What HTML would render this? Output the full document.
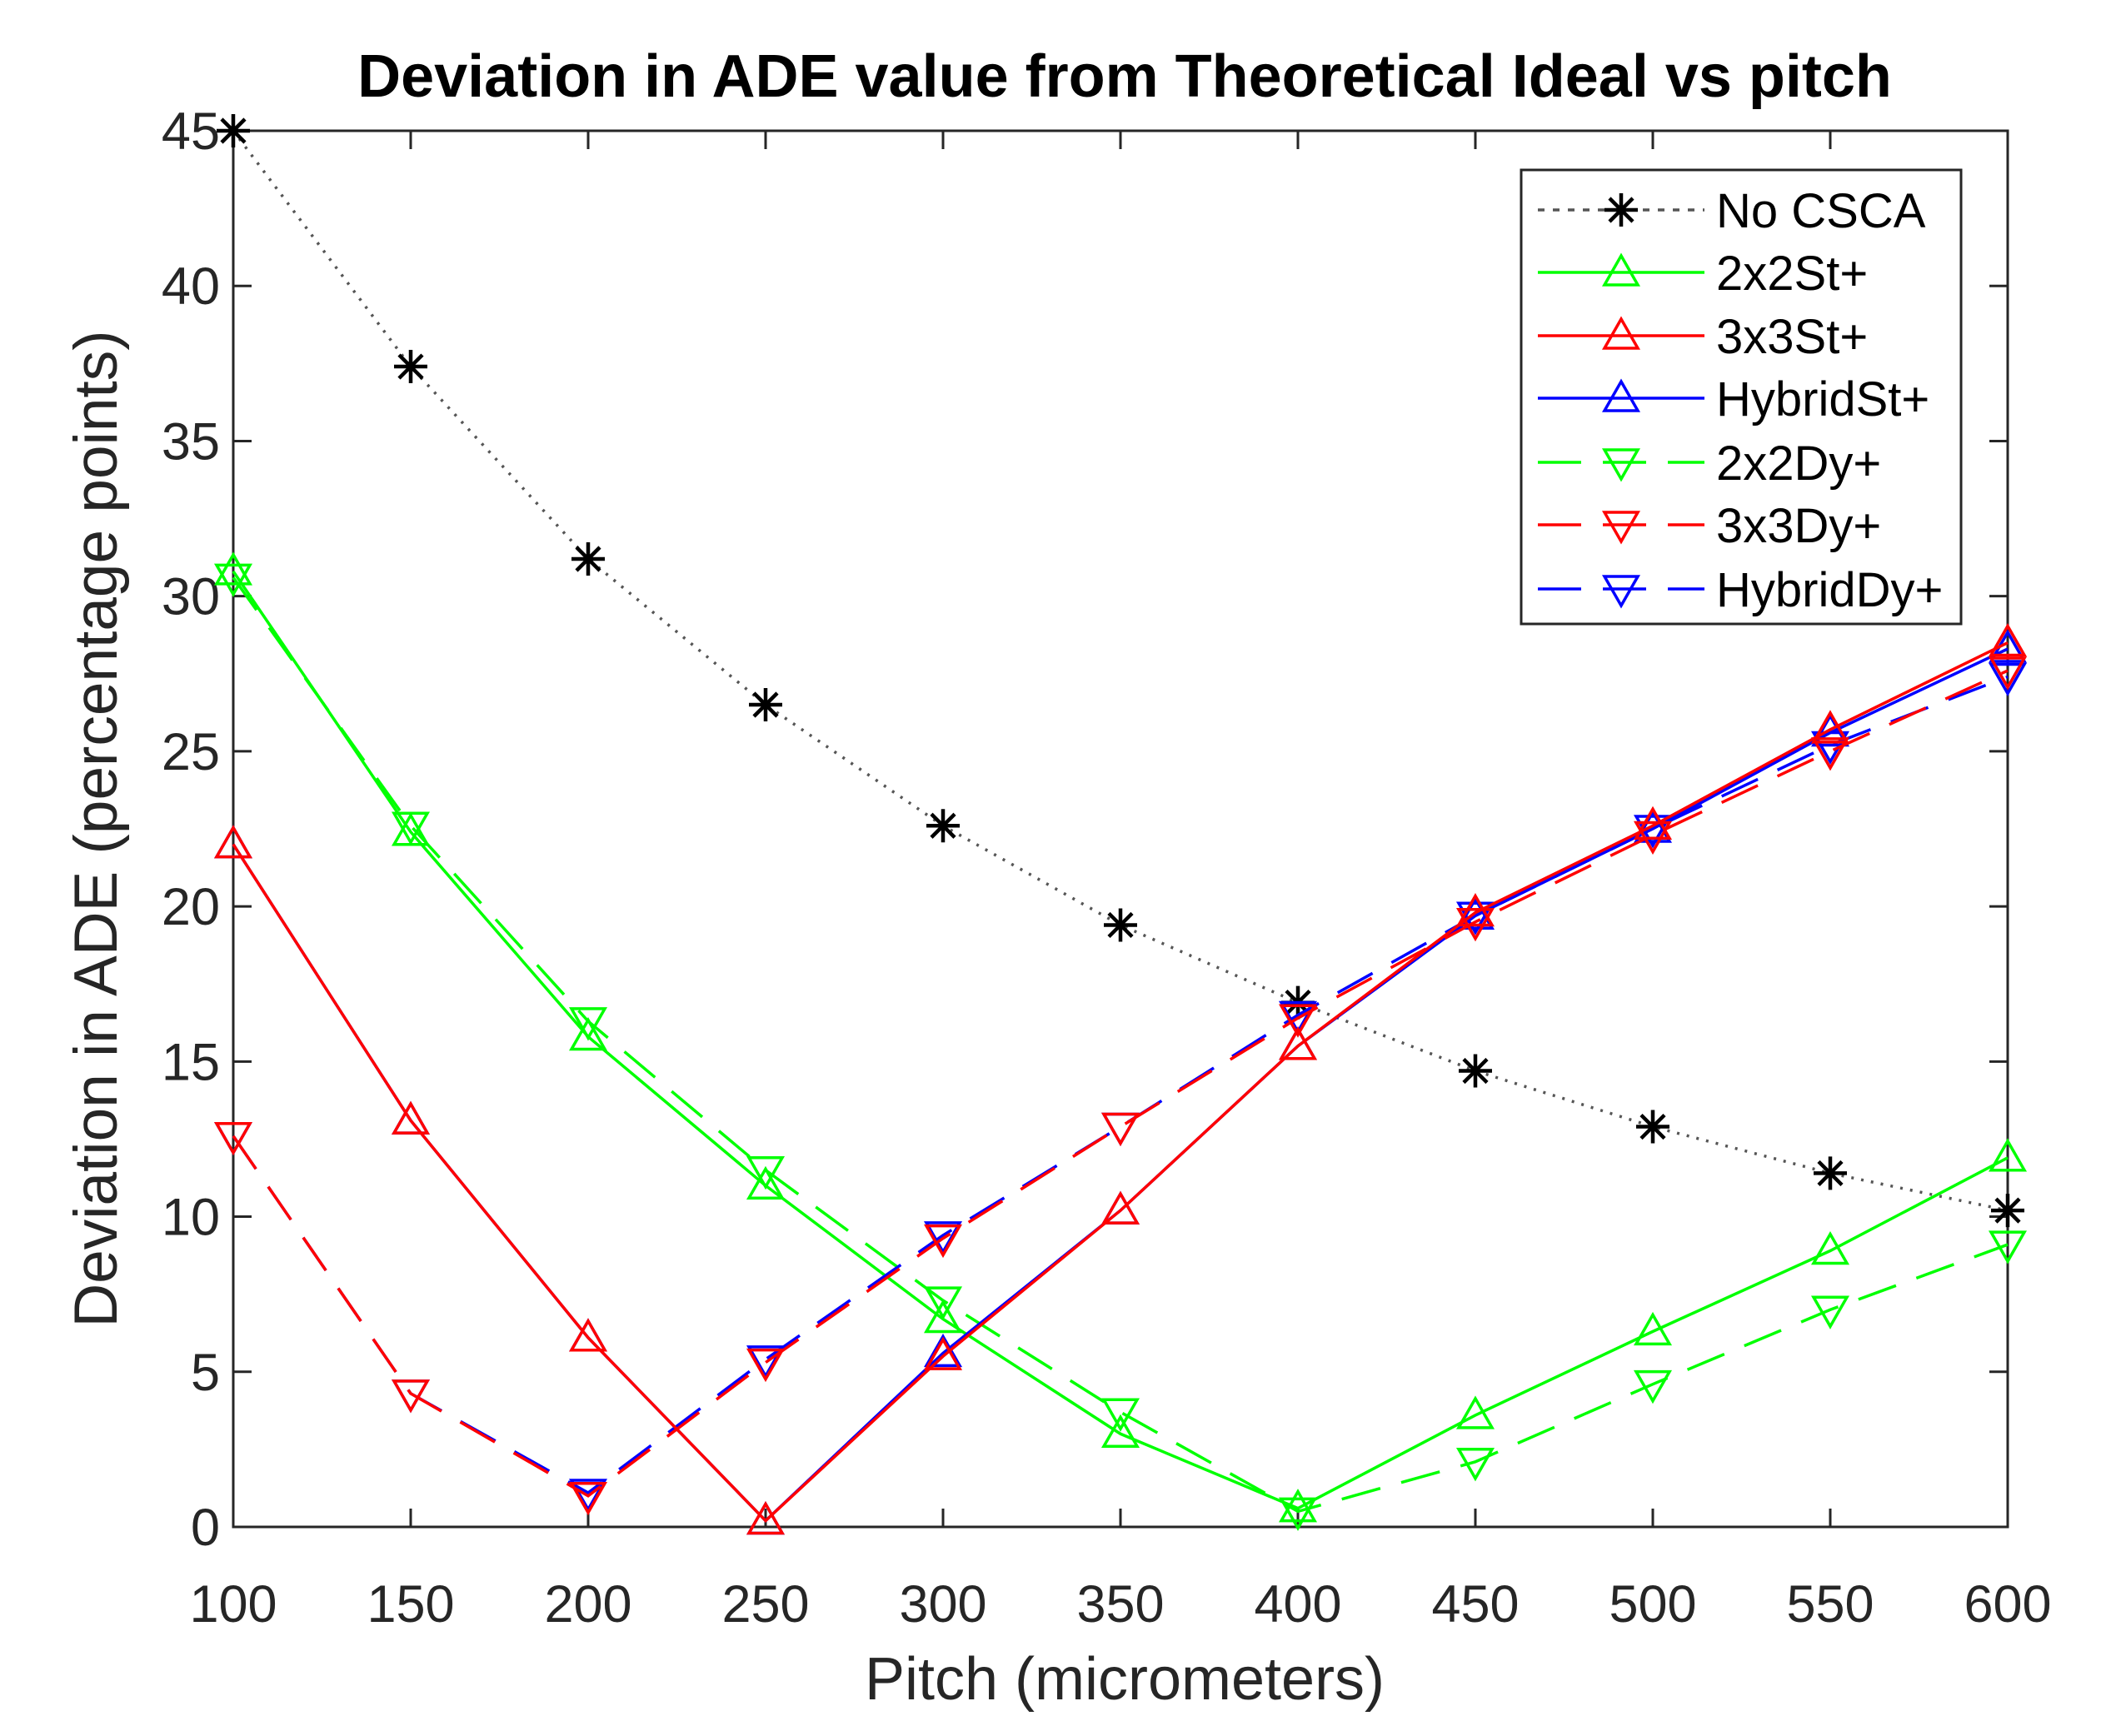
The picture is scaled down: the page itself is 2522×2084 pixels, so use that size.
<!DOCTYPE html>
<html><head><meta charset="utf-8"><style>
html,body{margin:0;padding:0;background:#fff;}
svg{display:block;font-family:"Liberation Sans",sans-serif;}
</style></head><body>
<svg id="chart" width="2522" height="2084" viewBox="0 0 2522 2084" xmlns="http://www.w3.org/2000/svg">
<rect width="2522" height="2084" fill="#fff"/>
<text x="1350" y="116" font-size="72" font-weight="bold" text-anchor="middle" fill="#000">Deviation in ADE value from Theoretical Ideal vs pitch</text>
<g id="grid"></g>
<g id="series"></g>
<text x="1350" y="2040" font-size="72" text-anchor="middle" fill="#262626">Pitch (micrometers)</text>
<text transform="translate(140,995) rotate(-90)" font-size="73" text-anchor="middle" fill="#262626">Deviation in ADE (percentage points)</text>
<g id="legend"></g>
</svg>
<script>
const xCats=[100,150,200,250,300,350,400,450,500,550,600];
const yTicks=[0,5,10,15,20,25,30,35,40,45];
const noCSCA=[45,37.4,31.2,26.5,22.6,19.4,16.9,14.7,12.9,11.4,10.2];
const st2x2=[30.8,22.4,15.8,11,6.7,3,0.6,3.6,6.3,8.9,11.9];
const st3x3=[22,13.1,6.1,0.2,5.5,10.2,15.5,19.8,22.6,25.7,28.5];
const stHybrid=[22,13.1,6.1,0.2,5.6,10.2,15.5,19.7,22.5,25.6,28.3];
const dy2x2=[30.6,22.6,16.3,11.5,7.3,3.7,0.5,2.1,4.6,7,9.1];
const dy3x3=[12.6,4.3,1,5.3,9.3,12.9,16.4,19.5,22.3,25,27.6];
const dyHybrid=[12.6,4.3,1.1,5.4,9.4,12.9,16.5,19.7,22.5,25.2,27.4];
const seriesNames=["No CSCA","2x2St+","3x3St+","HybridSt+","2x2Dy+","3x3Dy+","HybridDy+"];

const L=280,R=2410,T=157,B=1833;
const xs=v=>L+(v-100)/500*(R-L);
const ys=v=>B-v/45*(B-T);
const NS="http://www.w3.org/2000/svg";
function mk(tag,attrs,parent){const e=document.createElementNS(NS,tag);for(const k in attrs)e.setAttribute(k,attrs[k]);parent.appendChild(e);return e;}
const grid=document.getElementById('grid');
const frame=mk('rect',{x:L,y:T,width:R-L,height:B-T,fill:'none',stroke:'#262626','stroke-width':3},grid);


yTicks.forEach(v=>{
  const y=ys(v);
  mk('line',{x1:L,x2:L+22,y1:y,y2:y,stroke:'#262626','stroke-width':3},grid);
  mk('line',{x1:R,x2:R-22,y1:y,y2:y,stroke:'#262626','stroke-width':3},grid);
  const t=mk('text',{x:L-16,y:y+22,'font-size':63,'text-anchor':'end',fill:'#262626'},grid);
  t.textContent=v;
  
  
});
xCats.forEach(v=>{
  const x=xs(v);
  mk('line',{x1:x,x2:x,y1:B,y2:B-22,stroke:'#262626','stroke-width':3},grid);
  mk('line',{x1:x,x2:x,y1:T,y2:T+22,stroke:'#262626','stroke-width':3},grid);
  const t=mk('text',{x:x,y:1947,'font-size':63,'text-anchor':'middle',fill:'#262626'},grid);
  t.textContent=v;
  
  
});
const defs=[
 {d:noCSCA,c:'#000',dash:'3 9',m:'star',lc:'#555'},
 {d:st2x2,c:'#00ff00',dash:'',m:'up'},
 {d:st3x3,c:'#ff0000',dash:'',m:'up'},
 {d:stHybrid,c:'#0000ff',dash:'',m:'up'},
 {d:dy2x2,c:'#00ff00',dash:'48 26',m:'down'},
 {d:dy3x3,c:'#ff0000',dash:'48 26',m:'down'},
 {d:dyHybrid,c:'#0000ff',dash:'48 26',m:'down'}
];
const drawOrder=[0,1,4,3,6,2,5];
function marker(g,type,x,y,c){
  const s=20;
  if(type==='star'){
    mk('path',{d:`M${x-s} ${y}H${x+s}M${x} ${y-s}V${y+s}M${x-s*0.7} ${y-s*0.7}L${x+s*0.7} ${y+s*0.7}M${x-s*0.7} ${y+s*0.7}L${x+s*0.7} ${y-s*0.7}`,stroke:c,'stroke-width':4.5,fill:'none'},g);
  }else if(type==='up'){
    mk('path',{d:`M${x} ${y-s}L${x+s} ${y+s*0.75}L${x-s} ${y+s*0.75}Z`,stroke:c,'stroke-width':3.5,fill:'none'},g);
  }else{
    mk('path',{d:`M${x} ${y+s}L${x+s} ${y-s*0.75}L${x-s} ${y-s*0.75}Z`,stroke:c,'stroke-width':3.5,fill:'none'},g);
  }
}
const sg=document.getElementById('series');
drawOrder.forEach(i=>{
  const s=defs[i];
  const g=mk('g',{},sg);
  
  
  const pts=s.d.map((v,j)=>xs(xCats[j])+','+ys(v)).join(' ');
  const p=mk('polyline',{points:pts,fill:'none',stroke:s.lc||s.c,'stroke-width':3.5},g);
  if(s.dash)p.setAttribute('stroke-dasharray',s.dash);
  s.d.forEach((v,j)=>marker(g,s.m,xs(xCats[j]),ys(v),s.c));
});
const lg=document.getElementById('legend');
const box=mk('rect',{x:1826,y:204,width:528,height:545,fill:'#fff',stroke:'#262626','stroke-width':3},lg);


const ly=[252,327,403,478,555,630,707];
defs.forEach((s,i)=>{
  const y=ly[i];
  const g=mk('g',{},lg);
  
  
  const l=mk('line',{x1:1846,x2:2046,y1:y,y2:y,stroke:s.lc||s.c,'stroke-width':3.5},g);
  if(s.dash)l.setAttribute('stroke-dasharray',s.dash==='3 9'?'8 10':'52 26');
  marker(g,s.m,1946,y,s.c);
  const t=mk('text',{x:2060,y:y+21,'font-size':58,fill:'#000'},g);
  t.textContent=seriesNames[i];
});
</script>
</body></html>
